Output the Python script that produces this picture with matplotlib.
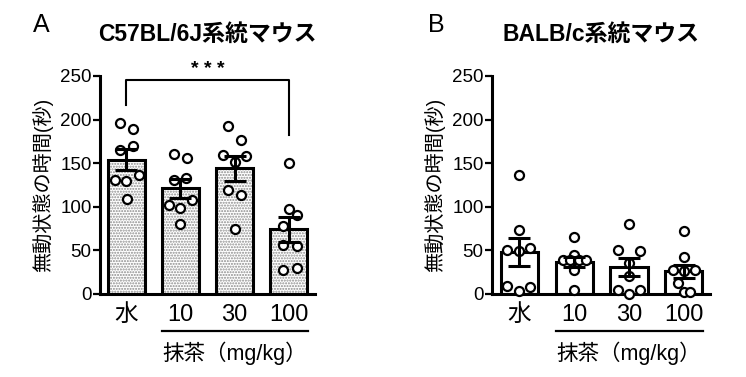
import matplotlib
matplotlib.use("Agg")

import numpy as np
import matplotlib.pyplot as plt
import matplotlib.transforms as mtransforms

plt.rcParams['font.family'] = ['Liberation Sans', 'Noto Sans CJK JP']
plt.rcParams['hatch.linewidth'] = 1.0

groups = ['水', '10', '30', '100']

# C57BL/6J
c57_mean = [154, 121, 144, 74]
c57_sem = [12, 11, 14, 14]
c57_pts = [
    [196, 189, 165, 170, 131, 130, 137, 109],
    [160, 156, 131, 133, 102, 108, 99, 80],
    [193, 177, 159, 158, 151, 119, 114, 75],
    [150, 98, 91, 78, 56, 55, 28, 30],
]
c57_dx = [
    [-0.11, 0.12, -0.12, 0.12, -0.21, 0.0, 0.23, 0.01],
    [-0.11, 0.13, -0.11, 0.11, -0.21, 0.22, 0.0, 0.0],
    [-0.12, 0.12, -0.21, 0.21, 0.0, -0.12, 0.12, 0.0],
    [0.0, 0.0, 0.14, -0.11, -0.11, 0.14, -0.11, 0.14],
]

# BALB/c
balb_mean = [48, 37, 31, 26]
balb_sem = [16, 6, 10, 7.5]
balb_pts = [
    [137, 73, 51, 53, 49, 9, 8, 4],
    [65, 45, 39, 39, 39, 39, 28, 5],
    [80, 51, 49, 35, 21, 5, 5, 0],
    [72, 43, 27, 27, 26, 13, 2, 2],
]
balb_dx = [
    [0, 0, -0.22, 0.2, 0, -0.22, 0.2, 0],
    [0, 0, -0.21, -0.08, 0.08, 0.21, 0, 0],
    [0, -0.2, 0.2, 0, 0, -0.2, 0.2, 0],
    [0, 0, -0.2, 0.2, 0, -0.11, 0, 0.12],
]

LW = 2.2


def draw_panel(ax, means, sems, pts, dxs, stipple, xlim):
    x = np.arange(len(groups))
    if stipple:
        ax.bar(x, means, width=0.68, color='white', hatch='......',
               edgecolor='#8c8c8c', linewidth=0, zorder=1)
    ax.bar(x, means, width=0.68, fill=False, edgecolor='black',
           linewidth=LW, zorder=2)
    for i in range(len(groups)):
        xs = x[i] + np.array(dxs[i])
        ax.plot(xs, pts[i], 'o', ms=6.5, mfc='white', mec='black',
                mew=1.6, zorder=3, clip_on=False)
    ax.errorbar(x, means, yerr=sems, fmt='none', ecolor='black',
                elinewidth=LW, capsize=8, capthick=LW, zorder=4)

    ax.set_xlim(*xlim)
    ax.set_ylim(0, 250)
    ax.set_yticks([0, 50, 100, 150, 200, 250])
    ax.set_xticks(x)
    ax.set_xticklabels(groups, fontsize=17)
    ax.tick_params(axis='x', length=0, pad=7)
    ax.tick_params(axis='y', length=5, width=1.6, pad=1, labelsize=13.5)
    for s in ['top', 'right']:
        ax.spines[s].set_visible(False)
    for s in ['left', 'bottom']:
        ax.spines[s].set_linewidth(LW)
    ax.set_ylabel('無動状態の時間(秒)', fontsize=14.5, labelpad=5)

    # dose label under 10/30/100
    trans = mtransforms.blended_transform_factory(ax.transData, ax.transAxes)
    ax.plot([0.66, 3.36], [-0.17, -0.17], color='black', lw=1.6,
            transform=trans, clip_on=False)
    ax.text(2.0, -0.27, '抹茶（mg/kg）', fontsize=15.5, ha='center',
            va='center', transform=trans)


fig = plt.figure(figsize=(7.46, 3.77), dpi=100)
axA = fig.add_axes([100 / 746, 83 / 377, 215 / 746, 218 / 377])
axB = fig.add_axes([492 / 746, 83 / 377, 218 / 746, 218 / 377])

draw_panel(axA, c57_mean, c57_sem, c57_pts, c57_dx, True, (-0.48, 3.48))
draw_panel(axB, balb_mean, balb_sem, balb_pts, balb_dx, False, (-0.5, 3.48))

axA.set_title('C57BL/6J系統マウス', fontsize=16.5, fontweight='bold', pad=25)
axB.set_title('BALB/c系統マウス', fontsize=16.5, fontweight='bold', pad=25)

# significance bracket
axA.plot([0, 0, 3, 3], [217, 245, 245, 182], color='black', lw=1.5,
         clip_on=False)
axA.text(1.5, 248, '* * *', ha='center', va='bottom', fontsize=14,
         fontweight='bold')

fig.text(33 / 746, 1 - 32 / 377, 'A', fontsize=18, ha='left', va='baseline')
fig.text(428 / 746, 1 - 32 / 377, 'B', fontsize=18, ha='left', va='baseline')

fig.savefig('out.png', dpi=100)
